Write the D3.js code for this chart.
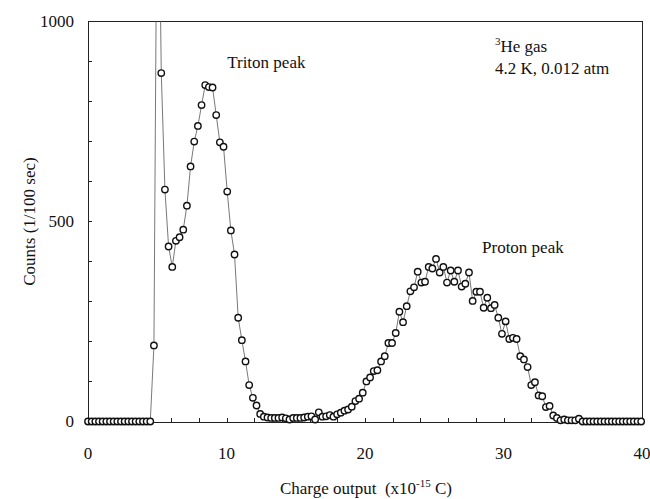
<!DOCTYPE html>
<html>
<head>
<meta charset="utf-8">
<script src="https://cdn.jsdelivr.net/npm/d3@7/dist/d3.min.js"></script>
<style>
  html, body { margin: 0; padding: 0; background: #fff; }
</style>
</head>
<body>
<svg id="chart" width="650" height="499" font-family="'Liberation Serif', 'Times New Roman', 'DejaVu Serif', serif"></svg>
<script>
// ---- data ----
const channelStep = 0.2645;           // charge step between channels (x10^-15 C)
const counts = [
  0,0,0,0,0,0,0,0,0,0,0,0,0,0,0,0,0,0,
  190,1600,870,579,437,386,451,460,479,539,637,699,738,790,840,835,834,765,697,686,574,477,417,259,203,150,91,59,40,19,12,
  10,9,9,9,10,8,5,9,9,9,10,12,13,
  5,23,12,13,16,12,18,22,27,30,37,51,57,72,100,110,126,128,150,163,196,196,221,274,248,288,
  325,335,374,347,349,386,382,406,372,386,347,377,349,377,337,344,372,
  301,324,324,284,309,283,291,259,219,250,206,209,206,163,155,136,91,98,65,63,36,39,15,9,3,5,3,3,3,7,
  0,0,0,0,0,0,0,0,0,0,0,0,0,0,0,0,0
];
const charge = counts.map((_, i) => i * channelStep);
const xTickLabels = [0, 10, 20, 30, 40];
const yTickLabels = [0, 500, 1000];
const xMinorTicks = d3.range(0, 40.01, 2);
const yMinorTicks = d3.range(0, 1000.01, 100);
const annotations = [
  { text: "Triton peak", x: 10.05, y: 883 },
  { text: "Proton peak", x: 28.45, y: 420 }
];

// ---- layout ----
const svg = d3.select("#chart");
const pL = 88, pR = 642, pT = 21, pB = 422;
const x = d3.scaleLinear().domain([0, 40]).range([pL, pR]);
const y = d3.scaleLinear().domain([0, 1000]).range([pB - 0.5, pT]);

svg.append("defs").append("clipPath").attr("id", "plotclip")
  .append("rect").attr("x", pL - 6).attr("y", pT).attr("width", pR - pL + 12).attr("height", pB - pT + 6);

// frame
svg.append("rect")
  .attr("x", pL + 0.5).attr("y", pT + 0.5).attr("width", pR - pL).attr("height", pB - pT)
  .attr("fill", "none").attr("stroke", "#222").attr("stroke-width", 1);

// minor ticks
svg.append("g").selectAll("line").data(yMinorTicks).join("line")
  .attr("x1", pL).attr("x2", pL + 4)
  .attr("y1", d => Math.round(y(d)) + 0.5).attr("y2", d => Math.round(y(d)) + 0.5)
  .attr("stroke", "#222").attr("stroke-width", 1);
svg.append("g").selectAll("line").data(xMinorTicks).join("line")
  .attr("x1", d => Math.round(x(d)) + 0.5).attr("x2", d => Math.round(x(d)) + 0.5)
  .attr("y1", pB).attr("y2", pB - 4)
  .attr("stroke", "#222").attr("stroke-width", 1);

// tick labels
svg.append("g").selectAll("text").data(yTickLabels).join("text")
  .attr("x", 74).attr("y", d => y(d)).attr("dy", "0.35em")
  .attr("text-anchor", "end").attr("font-size", 17).attr("fill", "#111").text(d => d);
svg.append("g").selectAll("text").data(xTickLabels).join("text")
  .attr("x", d => x(d)).attr("y", 459)
  .attr("text-anchor", "middle").attr("font-size", 17).attr("fill", "#111").text(d => d);

// axis titles
const xt = svg.append("text").attr("x", 366).attr("y", 494)
  .attr("text-anchor", "middle").attr("font-size", 17).attr("fill", "#111");
xt.append("tspan").text("Charge output\u00a0\u00a0(x10");
xt.append("tspan").attr("font-size", 11).attr("dy", -7).text("-15");
xt.append("tspan").attr("dy", 7).text(" C)");

svg.append("text")
  .attr("transform", `translate(35,${(pT + pB) / 2}) rotate(-90)`)
  .attr("text-anchor", "middle").attr("font-size", 17).attr("fill", "#111").text("Counts (1/100 sec)");

// series
const plot = svg.append("g").attr("clip-path", "url(#plotclip)");
const pts = counts.map((c, i) => [charge[i], c]);
plot.append("path").datum(pts)
  .attr("fill", "none").attr("stroke", "#555").attr("stroke-width", 0.8)
  .attr("d", d3.line().x(d => x(d[0])).y(d => y(d[1])));
plot.append("g").selectAll("circle").data(pts.filter(d => d[1] <= 1000)).join("circle")
  .attr("cx", d => x(d[0])).attr("cy", d => y(d[1])).attr("r", 3.2)
  .attr("fill", "#fff").attr("stroke", "#111").attr("stroke-width", 1.4);

// annotations
svg.append("g").selectAll("text").data(annotations).join("text")
  .attr("x", d => x(d.x)).attr("y", d => y(d.y))
  .attr("font-size", 17).attr("fill", "#111").text(d => d.text);

const he = svg.append("text").attr("x", 495).attr("y", 52).attr("font-size", 17).attr("fill", "#111");
he.append("tspan").attr("font-size", 11).attr("dy", -7).text("3");
he.append("tspan").attr("dy", 7).text("He gas");
svg.append("text").attr("x", 495).attr("y", 74).attr("font-size", 17).attr("fill", "#111").text("4.2 K, 0.012 atm");
</script>
</body>
</html>
